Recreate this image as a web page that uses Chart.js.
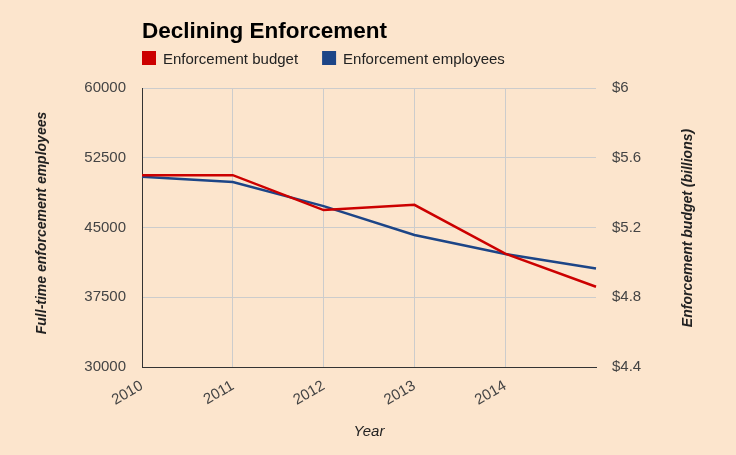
<!DOCTYPE html>
<html>
<head>
<meta charset="utf-8">
<script src="https://cdn.jsdelivr.net/npm/chart.js@4"></script>
<style>
  body { margin: 0; background: #fce5cd; }
  #wrap { width: 736px; height: 455px; }
</style>
</head>
<body>
<div id="wrap"><canvas id="enforcementChart" width="736" height="455"></canvas></div>
<script>
const years = ['2010', '2011', '2012', '2013', '2014', ''];
const budget = [5.50, 5.50, 5.30, 5.33, 5.05, 4.86];       // billions of dollars
const employees = [50450, 49900, 47300, 44200, 42150, 40600];

const FONT = '"Liberation Sans", Arial, sans-serif';
const RED = '#cc0000';
const BLUE = '#1c4587';

// title, legend and axis titles drawn by hand so they sit where the original has them
const headerPlugin = {
    id: 'header',
    afterDraw(chart) {
        const ctx = chart.ctx;
        const area = chart.chartArea;
        ctx.save();
        ctx.fillStyle = '#000';
        ctx.font = 'bold 22.5px ' + FONT;
        ctx.textBaseline = 'alphabetic';
        ctx.fillText('Declining Enforcement', 142, 38);

        ctx.font = '15px ' + FONT;
        let x = 142;
        chart.data.datasets.forEach(function(ds) {
            ctx.fillStyle = ds.borderColor;
            ctx.fillRect(x, 51, 14, 14);
            ctx.fillStyle = '#222';
            ctx.fillText(ds.label, x + 21, 64);
            x += 21 + ctx.measureText(ds.label).width + 24;
        });

        ctx.fillStyle = '#222';
        ctx.font = 'bold italic 14px ' + FONT;
        ctx.textAlign = 'center';
        ctx.textBaseline = 'middle';
        ctx.save();
        ctx.translate(42, 223);
        ctx.rotate(-Math.PI / 2);
        ctx.fillText('Full-time enforcement employees', 0, 0);
        ctx.restore();

        ctx.save();
        ctx.translate(688, 228);
        ctx.rotate(-Math.PI / 2);
        ctx.fillText('Enforcement budget (billions)', 0, 0);
        ctx.restore();

        ctx.font = 'italic 15px ' + FONT;
        ctx.fillText('Year', (area.left + area.right) / 2, 432);
        ctx.restore();
    }
};

const ctx = document.getElementById('enforcementChart');
new Chart(ctx, {
    type: 'line',
    data: {
        labels: years,
        datasets: [
            {
                label: 'Enforcement budget',
                data: budget,
                yAxisID: 'y1',
                borderColor: RED,
                backgroundColor: RED,
                borderWidth: 2.5,
                pointRadius: 0,
                tension: 0
            },
            {
                label: 'Enforcement employees',
                data: employees,
                yAxisID: 'y',
                borderColor: BLUE,
                backgroundColor: BLUE,
                borderWidth: 2.5,
                pointRadius: 0,
                tension: 0
            }
        ]
    },
    options: {
        responsive: false,
        animation: false,
        layout: { padding: { top: 88, left: 0, right: 0, bottom: 0 } },
        plugins: {
            legend: { display: false },
            title: { display: false },
            tooltip: { enabled: false }
        },
        scales: {
            x: {
                offset: false,
                afterFit: function(scale) { scale.height = 88; },
                grid: {
                    color: function(c) { return c.index === 5 ? 'rgba(0,0,0,0)' : '#cccccc'; },
                    drawTicks: false
                },
                border: { color: '#333', width: 1 },
                ticks: {
                    color: '#444',
                    font: { family: FONT, size: 15 },
                    minRotation: 30,
                    maxRotation: 30,
                    autoSkip: false,
                    padding: 10
                }
            },
            y: {
                position: 'left',
                min: 30000,
                max: 60000,
                afterFit: function(scale) { scale.width = 142; },
                grid: { color: '#cccccc', drawTicks: false },
                border: { color: '#333', width: 1 },
                ticks: {
                    stepSize: 7500,
                    color: '#444',
                    font: { family: FONT, size: 15 },
                    padding: 16,
                    callback: function(v) { return String(v); }
                }
            },
            y1: {
                position: 'right',
                min: 4.4,
                max: 6,
                afterFit: function(scale) { scale.width = 140; },
                grid: { drawOnChartArea: false, drawTicks: false },
                border: { display: false },
                ticks: {
                    stepSize: 0.4,
                    color: '#444',
                    font: { family: FONT, size: 15 },
                    padding: 16,
                    callback: function(v) { return '$' + Number(v.toFixed(1)); }
                }
            }
        }
    },
    plugins: [headerPlugin]
});
</script>
</body>
</html>
